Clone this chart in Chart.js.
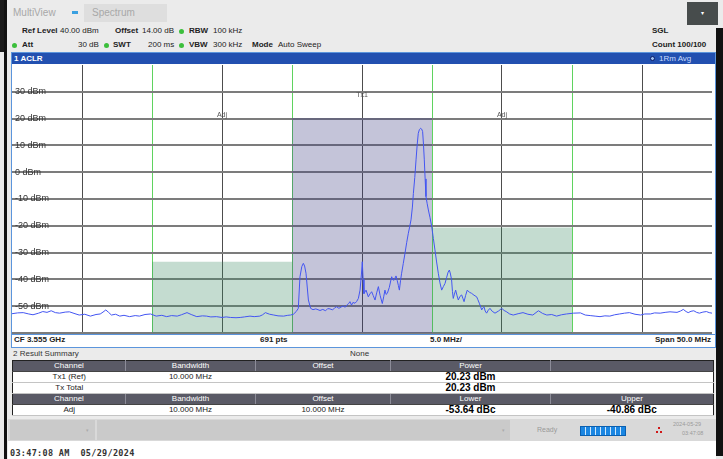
<!DOCTYPE html>
<html>
<head>
<meta charset="utf-8">
<script src="https://cdn.jsdelivr.net/npm/chart.js@4.4.1/dist/chart.umd.min.js"></script>
<style>
  html, body { margin: 0; padding: 0; }
  body { width: 723px; height: 459px; position: relative; overflow: hidden; background: #ebebeb;
         font-family: 'Liberation Sans', Arial, sans-serif; font-size: 8px; color: #222; }
  .a { position: absolute; white-space: nowrap; line-height: 10px; }
  .b { font-weight: bold; }
  .dot { position: absolute; width: 5px; height: 5px; border-radius: 50%; background: #3cbf3c; }
  #res { position: absolute; left: 12px; top: 360px; width: 701px; border-collapse: collapse; table-layout: fixed;
         border: 1px solid #222; font-size: 8px; }
  #res td { padding: 0; height: 10px; line-height: 10px; text-align: center; color: #222; background: #fff;
            border-bottom: 1px solid #c4c4c4; }
  #res tr.h td { background: #5a5a66; color: #fff; border-left: 1px solid #8c8c98; border-bottom: 1px solid #444; }
  #res tr.h td:first-child { border-left: none; }
  #res td.v { font-size: 10px; font-weight: bold; color: #000; }
</style>
</head>
<body>

<!-- window edges -->
<div style="position:absolute;left:0;top:0;width:4px;height:52px;background:#1a1a1a"></div>
<div style="position:absolute;left:4px;top:0;width:3px;height:459px;background:#111"></div>
<div style="position:absolute;left:716px;top:28px;width:7px;height:428px;background:#111"></div>
<div style="position:absolute;left:687px;top:2px;width:31px;height:23px;background:#474c4c;color:#fff;font-size:6px;line-height:23px;text-align:center">&#9662;</div>

<!-- header -->
<div class="a" style="left:13px;top:8px;font-size:10px;color:#a8a8a8">MultiView</div>
<div style="position:absolute;left:72px;top:11px;width:6px;height:3px;background:#3aa0e0"></div>
<div style="position:absolute;left:84px;top:4px;width:83px;height:18px;background:#dedede"></div>
<div class="a" style="left:92px;top:8px;font-size:10px;color:#a8a8a8">Spectrum</div>

<div class="a b" style="left:22px;top:26px">Ref Level</div>
<div class="a" style="left:60px;top:26px">40.00 dBm</div>
<div class="a b" style="left:115px;top:26px">Offset</div>
<div class="a" style="left:142px;top:26px">14.00 dB</div>
<div class="dot" style="left:179px;top:29px"></div>
<div class="a b" style="left:189px;top:26px">RBW</div>
<div class="a" style="left:213px;top:26px">100 kHz</div>

<div class="dot" style="left:12px;top:43px"></div>
<div class="a b" style="left:22px;top:40px">Att</div>
<div class="a" style="left:78px;top:40px">30 dB</div>
<div class="dot" style="left:104px;top:43px"></div>
<div class="a b" style="left:113px;top:40px">SWT</div>
<div class="a" style="left:148px;top:40px">200 ms</div>
<div class="dot" style="left:179px;top:43px"></div>
<div class="a b" style="left:189px;top:40px">VBW</div>
<div class="a" style="left:213px;top:40px">300 kHz</div>
<div class="a b" style="left:252px;top:40px">Mode</div>
<div class="a" style="left:278px;top:40px">Auto Sweep</div>

<div class="a b" style="left:652px;top:26px">SGL</div>
<div class="a b" style="left:652px;top:40px">Count 100/100</div>

<!-- diagram window -->
<div style="position:absolute;left:11px;top:52px;width:703px;height:294px;border:1px solid #5b95dc;background:#fff"></div>
<div style="position:absolute;left:12px;top:53px;width:703px;height:11px;background:#2250b0"></div>
<div class="a b" style="left:14px;top:53px;line-height:11px;color:#fff">1 ACLR</div>
<div style="position:absolute;left:650px;top:56px;width:3px;height:3px;border-radius:50%;border:1.5px solid #0a1c66;background:#9fc0f0"></div>
<div class="a" style="left:659px;top:53px;line-height:11px;color:#c9dcff">1Rm Avg</div>

<canvas id="spec" width="701" height="269" style="position:absolute;left:12px;top:65px"></canvas>

<div style="position:absolute;left:12px;top:334px;width:703px;height:0;border-top:1px solid #5b95dc"></div>
<div class="a b" style="left:14px;top:335px">CF 3.555 GHz</div>
<div class="a b" style="left:260px;top:335px">691 pts</div>
<div class="a b" style="left:430px;top:335px">5.0 MHz/</div>
<div class="a b" style="right:12px;top:335px">Span 50.0 MHz</div>

<!-- result summary -->
<div class="a" style="left:13px;top:349px;color:#333">2 Result Summary</div>
<div class="a" style="left:350px;top:349px;color:#333">None</div>
<table id="res">
  <colgroup><col style="width:113px"><col style="width:130px"><col style="width:135px"><col style="width:160px"><col style="width:163px"></colgroup>
  <tr class="h"><td>Channel</td><td>Bandwidth</td><td>Offset</td><td>Power</td><td></td></tr>
  <tr><td>Tx1 (Ref)</td><td>10.000 MHz</td><td></td><td class="v">20.23 dBm</td><td></td></tr>
  <tr><td>Tx Total</td><td></td><td></td><td class="v">20.23 dBm</td><td></td></tr>
  <tr class="h"><td>Channel</td><td>Bandwidth</td><td>Offset</td><td>Lower</td><td>Upper</td></tr>
  <tr><td>Adj</td><td>10.000 MHz</td><td>10.000 MHz</td><td class="v">-53.64 dBc</td><td class="v">-40.86 dBc</td></tr>
</table>

<!-- status bar -->
<div style="position:absolute;left:8px;top:419px;width:708px;height:22px;background:#d9d9d9"></div>
<div style="position:absolute;left:10px;top:420px;width:85px;height:20px;background:#cacaca"></div>
<div style="position:absolute;left:97px;top:420px;width:413px;height:20px;background:#cacaca"></div>
<div class="a" style="left:86px;top:425px;font-size:5px;color:#aaa">&#9662;</div>
<div class="a" style="left:502px;top:425px;font-size:5px;color:#aaa">&#9662;</div>
<div class="a" style="left:537px;top:425px;font-size:7px;color:#9a9a9a">Ready</div>
<div style="position:absolute;left:580px;top:426px;width:44px;height:8px;border:1px solid #0a5fb0;
  background:repeating-linear-gradient(90deg,#1a86e2 0 4px,#cfe6fa 4px 5px)"></div>
<div style="position:absolute;left:658px;top:427px;width:2px;height:2px;background:#d01818"></div>
<div style="position:absolute;left:656px;top:431px;width:2px;height:2px;background:#d01818"></div>
<div style="position:absolute;left:660px;top:431px;width:2px;height:2px;background:#d01818"></div>
<div class="a" style="left:673px;top:421px;font-size:5.5px;color:#999;line-height:7px">2024-05-29</div>
<div class="a" style="left:682px;top:430px;font-size:5.5px;color:#999;line-height:7px">03:47:08</div>

<div style="position:absolute;left:8px;top:441px;width:708px;height:18px;background:#fff"></div>
<div class="a b" style="left:10px;top:448px;font-family:'DejaVu Sans Mono',monospace;font-size:8.5px;letter-spacing:0.3px;color:#333;white-space:pre">03:47:08 AM  05/29/2024</div>

<script>
// ---- trace (offset from CF in MHz, level in dBm) ----
const freqMHz = [
  -25.0, -24.6, -24.2, -23.8, -23.5, -23.1, -22.8, -22.5, -22.2, -21.9, -21.6, -21.2, -20.9, -20.5, -20.2,
  -19.8, -19.4, -19.0, -18.7, -18.5, -18.3, -18.1, -17.9, -17.6, -17.3, -17.0, -16.6, -16.2, -15.9, -15.5,
  -15.1, -14.7, -14.3, -13.95, -13.6, -13.2, -12.9, -12.5, -12.2, -11.8, -11.4, -11.1, -10.8, -10.4, -10.0,
  -9.7, -9.4, -9.0, -8.7, -8.4, -8.0, -7.7, -7.3, -7.1, -6.9, -6.6, -6.3, -6.0, -5.6, -5.3,
  -5.1, -4.9, -4.7, -4.55, -4.43, -4.3, -4.19, -4.1, -4.0, -3.83, -3.67, -3.5, -3.3, -3.0, -2.8,
  -2.6, -2.45, -2.29, -2.1, -1.95, -1.81, -1.65, -1.5, -1.33, -1.2, -1.05, -0.95, -0.86, -0.75, -0.65,
  -0.5, -0.38, -0.26, -0.14, -0.04, 0.02, 0.08, 0.14, 0.29, 0.45, 0.57, 0.69, 0.8, 0.93, 1.05,
  1.17, 1.29, 1.45, 1.55, 1.64, 1.72, 1.81, 1.95, 2.05, 2.12, 2.2, 2.29, 2.36, 2.43, 2.52,
  2.6, 2.67, 2.75, 2.83, 2.95, 3.07, 3.19, 3.31, 3.4, 3.5, 3.6, 3.67, 3.77, 3.86, 3.94,
  4.02, 4.1, 4.19, 4.26, 4.33, 4.39, 4.45, 4.51, 4.57, 4.65, 4.74, 4.86, 4.98, 5.1, 5.21,
  5.33, 5.45, 5.57, 5.69, 5.81, 5.93, 6.05, 6.15, 6.24, 6.32, 6.4, 6.46, 6.52, 6.6, 6.69,
  6.78, 6.88, 7.0, 7.12, 7.2, 7.29, 7.4, 7.52, 7.67, 7.83, 8.0, 8.19, 8.28, 8.38, 8.46,
  8.55, 8.63, 8.71, 8.8, 8.9, 9.02, 9.14, 9.3, 9.5, 9.75, 9.98, 10.15, 10.3, 10.55, 10.8,
  11.15, 11.5, 11.85, 12.2, 12.6, 12.9, 13.2, 13.55, 13.9, 14.25, 14.6, 15.1, 15.6, 15.95, 16.3,
  16.65, 17.0, 17.35, 17.7, 18.05, 18.4, 18.75, 19.1, 19.5, 19.9, 20.2, 20.6, 20.9, 21.3, 21.65,
  22.0, 22.5, 22.75, 22.95, 23.15, 23.3, 23.5, 23.7, 23.9, 24.1, 24.35, 24.6, 24.8, 25.0
];
const levelDbm = [
  -52.8, -52.5, -52.4, -52.9, -53.2, -52.6, -52.0, -52.3, -51.7, -52.4, -52.6, -52.2, -52.1, -52.8, -53.3,
  -53.0, -53.7, -53.1, -52.9, -52.2, -51.4, -52.3, -53.3, -53.0, -53.7, -53.4, -53.9, -53.5, -53.7, -53.1,
  -52.9, -53.7, -53.4, -53.9, -53.5, -53.7, -53.2, -52.4, -53.1, -53.9, -53.6, -53.7, -54.0, -53.9, -54.2,
  -54.0, -54.2, -54.3, -54.2, -54.0, -53.7, -53.9, -53.7, -53.2, -52.4, -53.0, -53.3, -53.6, -53.7, -53.4,
  -53.3, -53.0, -52.0, -50.8, -39.0, -35.2, -34.0, -35.0, -37.7, -47.7, -50.8, -51.3, -51.0, -51.6, -51.2,
  -51.7, -50.9, -51.0, -51.4, -50.6, -50.2, -50.8, -50.3, -49.9, -50.4, -49.4, -49.0, -48.3, -49.6, -48.6,
  -48.9, -48.2, -47.1, -44.0, -38.0, -33.4, -40.0, -45.3, -44.0, -46.5, -45.4, -44.6, -46.0, -47.7, -45.0,
  -42.7, -45.9, -49.0, -46.5, -44.0, -45.6, -45.2, -43.0, -40.6, -39.0, -40.1, -40.3, -39.5, -38.7, -40.5,
  -42.3, -44.0, -40.5, -37.7, -34.0, -30.3, -26.3, -22.8, -20.5, -17.8, -13.0, -7.9, -2.0, 4.6, 10.2,
  14.5, 15.9, 16.4, 16.1, 15.2, 10.5, 4.6, -2.5, -9.1, -11.6, -14.1, -17.0, -20.3, -24.8, -29.0,
  -33.5, -37.7, -41.3, -44.0, -42.7, -41.5, -39.2, -37.3, -36.5, -38.0, -40.2, -44.5, -47.1, -45.5, -44.0,
  -45.9, -47.7, -46.3, -45.8, -47.0, -48.3, -46.0, -44.0, -44.8, -45.2, -45.9, -46.5, -47.6, -48.9, -50.0,
  -51.4, -50.6, -50.2, -51.8, -52.6, -51.5, -50.8, -51.9, -52.6, -51.8, -50.8, -51.6, -52.0, -52.9, -53.3,
  -52.8, -52.4, -53.0, -53.3, -51.7, -52.7, -53.3, -53.1, -53.7, -53.2, -52.9, -52.6, -52.5, -53.3, -53.5,
  -53.7, -53.9, -53.6, -53.7, -53.2, -52.9, -52.6, -52.4, -53.0, -53.3, -52.9, -52.9, -52.5, -52.6, -52.3,
  -52.1, -52.3, -51.8, -51.2, -52.0, -52.4, -51.9, -51.7, -52.3, -52.6, -52.2, -52.0, -52.4, -52.6
];

// ---- ACLR channels ----
const chanNames = ['Adj', 'Tx1', 'Adj'];
const chanOffsetMHz = [-10, 0, 10];
const chanBwMHz = [10, 10, 10];
const chanLevelDbm = [-33.41, 20.23, -20.63];

// ---- axes ----
const spanMHz = [-25, 25];
const levelRange = [-60, 40];
const yLabelValues = [30, 20, 10, 0, -10, -20, -30, -40, -50];
const channelEdgesMHz = [-15, -5, 5, 15];

const TX_FILL = 'rgba(60,60,130,0.30)';
const ADJ_FILL = 'rgba(60,140,100,0.30)';

const channelSets = chanNames.map((name, i) => ({
    label: name,
    data: [
        { x: chanOffsetMHz[i] - chanBwMHz[i] / 2, y: chanLevelDbm[i] },
        { x: chanOffsetMHz[i] + chanBwMHz[i] / 2, y: chanLevelDbm[i] }
    ],
    backgroundColor: name === 'Tx1' ? TX_FILL : ADJ_FILL,
    borderWidth: 0,
    pointRadius: 0,
    fill: 'start',
    order: 2
}));

// labels drawn inside the plot (dBm levels, channel names)
const overlayText = {
    id: 'overlayText',
    afterDatasetsDraw(chart) {
        const { ctx, chartArea, scales: { x, y } } = chart;
        ctx.save();
        ctx.font = '9px "Liberation Sans", Arial, sans-serif';
        ctx.fillStyle = '#333';
        ctx.textBaseline = 'middle';
        ctx.textAlign = 'left';
        yLabelValues.forEach(v => ctx.fillText(v + ' dBm', chartArea.left + 3, y.getPixelForValue(v)));
        ctx.font = '7px "Liberation Sans", Arial, sans-serif';
        ctx.fillStyle = '#555';
        ctx.textAlign = 'center';
        chanNames.forEach((n, i) => {
            ctx.fillText(n, x.getPixelForValue(chanOffsetMHz[i]), chartArea.top + (n === 'Tx1' ? 30 : 50));
        });
        ctx.restore();
    }
};

new Chart(document.getElementById('spec'), {
    type: 'line',
    data: {
        datasets: [
            {
                label: 'Trace 1',
                data: freqMHz.map((f, i) => ({ x: f, y: levelDbm[i] })),
                borderColor: '#4355f2',
                borderWidth: 1,
                pointRadius: 0,
                tension: 0,
                fill: false,
                order: 0
            },
            ...channelSets
        ]
    },
    options: {
        responsive: false,
        animation: false,
        devicePixelRatio: 1,
        layout: { padding: { left: 0, right: 1, top: 0, bottom: 1 } },
        plugins: { legend: { display: false }, tooltip: { enabled: false } },
        scales: {
            x: {
                type: 'linear',
                min: spanMHz[0], max: spanMHz[1],
                ticks: { display: false, stepSize: 5 },
                border: { display: false },
                grid: {
                    drawTicks: false,
                    lineWidth: 1,
                    color: c => {
                        const v = c.tick.value;
                        if (v === spanMHz[0] || v === spanMHz[1]) return 'rgba(0,0,0,0)';
                        return channelEdgesMHz.includes(v) ? '#5fd35f' : '#4d4d4d';
                    }
                }
            },
            y: {
                min: levelRange[0], max: levelRange[1],
                ticks: { display: false, stepSize: 10 },
                border: { display: false },
                grid: {
                    drawTicks: false,
                    lineWidth: 2,
                    color: c => c.tick.value === levelRange[1] ? 'rgba(0,0,0,0)' : '#7c7c7c'
                }
            }
        }
    },
    plugins: [overlayText]
});
</script>
</body>
</html>
